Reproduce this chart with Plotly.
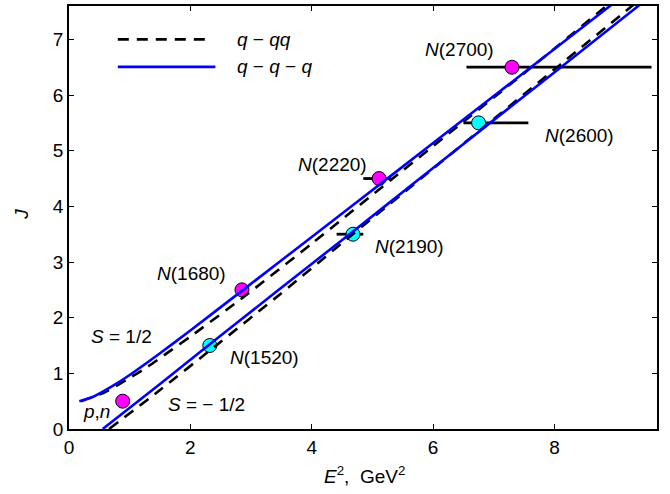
import plotly.graph_objects as go

# ---- data ----
# q-q-q model, S = 1/2 (upper solid)
qqq_up_E2 = [0.17, 0.4, 0.7, 1.0, 1.5, 2.0, 2.87, 4.0, 5.33, 6.5, 7.59, 8.95]
qqq_up_J = [0.50, 0.58, 0.76, 0.97, 1.36, 1.77, 2.50, 3.45, 4.57, 5.56, 6.48, 7.63]
# q-q-q model, S = -1/2 (lower solid)
qqq_lo_E2 = [0.555, 1.5, 2.33, 3.42, 4.67, 5.77, 6.94, 8.06, 9.45]
qqq_lo_J = [0.0, 0.81, 1.53, 2.47, 3.54, 4.49, 5.50, 6.46, 7.66]
# q-qq model, S = 1/2 (upper dashed)
qqq_d_up_E2 = [0.2, 0.59, 0.95, 1.30, 1.65, 2.0, 2.9, 4.0, 5.3, 6.5, 7.6, 8.9]
qqq_d_up_J = [0.5, 0.66, 0.885, 1.12, 1.39, 1.66, 2.39, 3.33, 4.47, 5.52, 6.48, 7.64]
# q-qq model, S = -1/2 (lower dashed)
qqq_d_lo_E2 = [0.66, 1.5, 2.4, 3.5, 4.7, 5.8, 7.0, 8.1, 9.3]
qqq_d_lo_J = [0.0, 0.70, 1.48, 2.44, 3.52, 4.50, 5.57, 6.55, 7.62]

# experimental states
mag_names = ["p,n", "N(1680)", "N(2220)", "N(2700)"]
mag_E2 = [0.885, 2.85, 5.11, 7.30]
mag_J = [0.5, 2.5, 4.5, 6.5]
mag_err_plus = [0, 0, 0.20, 2.30]
mag_err_minus = [0, 0, 0.26, 0.75]

cyan_names = ["N(1520)", "N(2190)", "N(2600)"]
cyan_E2 = [2.32, 4.68, 6.75]
cyan_J = [1.5, 3.5, 5.5]
cyan_err_plus = [0, 0.17, 0.82]
cyan_err_minus = [0, 0.27, 0.25]

x_ticks = [0, 2, 4, 6, 8]
y_ticks = [0, 1, 2, 3, 4, 5, 6, 7]

FONT = "Liberation Sans, Arial, Helvetica, sans-serif"
FS = 19

fig = go.Figure()

# markers with horizontal error bars
fig.add_trace(go.Scatter(
    x=mag_E2, y=mag_J, mode="markers",
    marker=dict(size=14, color="#ff00ff", line=dict(color="black", width=1)),
    error_x=dict(type="data", symmetric=False, array=mag_err_plus,
                 arrayminus=mag_err_minus, color="black", thickness=2.8, width=0),
    showlegend=False))
fig.add_trace(go.Scatter(
    x=cyan_E2, y=cyan_J, mode="markers",
    marker=dict(size=14, color="#00ffff", line=dict(color="black", width=1)),
    error_x=dict(type="data", symmetric=False, array=cyan_err_plus,
                 arrayminus=cyan_err_minus, color="black", thickness=2.8, width=0),
    showlegend=False))

dash = "11px,8px"
for xs, ys in [(qqq_d_up_E2, qqq_d_up_J), (qqq_d_lo_E2, qqq_d_lo_J)]:
    fig.add_trace(go.Scatter(x=xs, y=ys, mode="lines",
                             line=dict(color="black", width=2.6, dash=dash, shape="spline", smoothing=0.6),
                             showlegend=False))
for xs, ys in [(qqq_up_E2, qqq_up_J), (qqq_lo_E2, qqq_lo_J)]:
    fig.add_trace(go.Scatter(x=xs, y=ys, mode="lines",
                             line=dict(color="#0000ff", width=2.6, shape="spline", smoothing=0.6),
                             showlegend=False))

# annotations for states
labels = [
    ("<i>N</i>(2700)", 5.83, 6.82),
    ("<i>N</i>(2600)", 7.81, 5.27),
    ("<i>N</i>(2220)", 3.74, 4.75),
    ("<i>N</i>(2190)", 5.01, 3.28),
    ("<i>N</i>(1680)", 1.42, 2.8),
    ("<i>N</i>(1520)", 2.62, 1.28),
    ("<i>p</i>,<i>n</i>", 0.2, 0.31),
    ("<i>S</i> = 1/2", 0.33, 1.66),
    ("<i>S</i> = \u2212 1/2", 1.6, 0.44),
]
for txt, x, y in labels:
    fig.add_annotation(x=x, y=y, text=txt, showarrow=False, xanchor="left", yanchor="middle",
                       font=dict(family=FONT, size=FS, color="black"), xref="x", yref="y")

# legend keys (drawn manually, no box)
fig.add_shape(type="line", xref="paper", yref="paper", x0=0.083, x1=0.233, y0=0.921, y1=0.921,
              line=dict(color="black", width=2.6, dash=dash))
fig.add_shape(type="line", xref="paper", yref="paper", x0=0.083, x1=0.249, y0=0.856, y1=0.856,
              line=dict(color="#0000ff", width=2.6))
fig.add_annotation(x=0.283, y=0.921, xref="paper", yref="paper", text="<i>q</i> \u2212 <i>qq</i>",
                   showarrow=False, xanchor="left", yanchor="middle",
                   font=dict(family=FONT, size=FS, color="black"))
fig.add_annotation(x=0.283, y=0.856, xref="paper", yref="paper",
                   text="<i>q</i> \u2212 <i>q</i> \u2212 <i>q</i>",
                   showarrow=False, xanchor="left", yanchor="middle",
                   font=dict(family=FONT, size=FS, color="black"))

# axis titles
fig.add_annotation(x=0.502, y=-0.108, xref="paper", yref="paper",
                   text="<i>E</i><sup>2</sup>,  GeV<sup>2</sup>", showarrow=False,
                   xanchor="center", yanchor="middle", font=dict(family=FONT, size=FS, color="black"))
fig.add_annotation(x=-0.08, y=0.509, xref="paper", yref="paper", text="<i>J</i>",
                   showarrow=False, textangle=-90, xanchor="center", yanchor="middle",
                   font=dict(family=FONT, size=FS, color="black"))

axis_common = dict(showgrid=False, zeroline=False, showline=True, linecolor="black", linewidth=1.5,
                   mirror="ticks", ticks="inside", ticklen=5, tickwidth=1, tickcolor="black",
                   automargin=False,
                   tickfont=dict(family=FONT, size=FS, color="black"))
fig.update_xaxes(range=[0, 9.69], tickvals=x_ticks, ticktext=[str(v) for v in x_ticks], **axis_common)
fig.update_yaxes(range=[0, 7.6], tickvals=y_ticks, ticktext=[str(v) for v in y_ticks], **axis_common)

fig.update_layout(width=670, height=494, margin=dict(l=69, r=13, t=6, b=65, autoexpand=False),
                  plot_bgcolor="white", paper_bgcolor="white", showlegend=False,
                  font=dict(family=FONT, size=FS, color="black"))

fig.write_html("out.html", config={"displayModeBar": False},
               post_script="document.body.style.margin='0';document.body.style.overflow='hidden';")
